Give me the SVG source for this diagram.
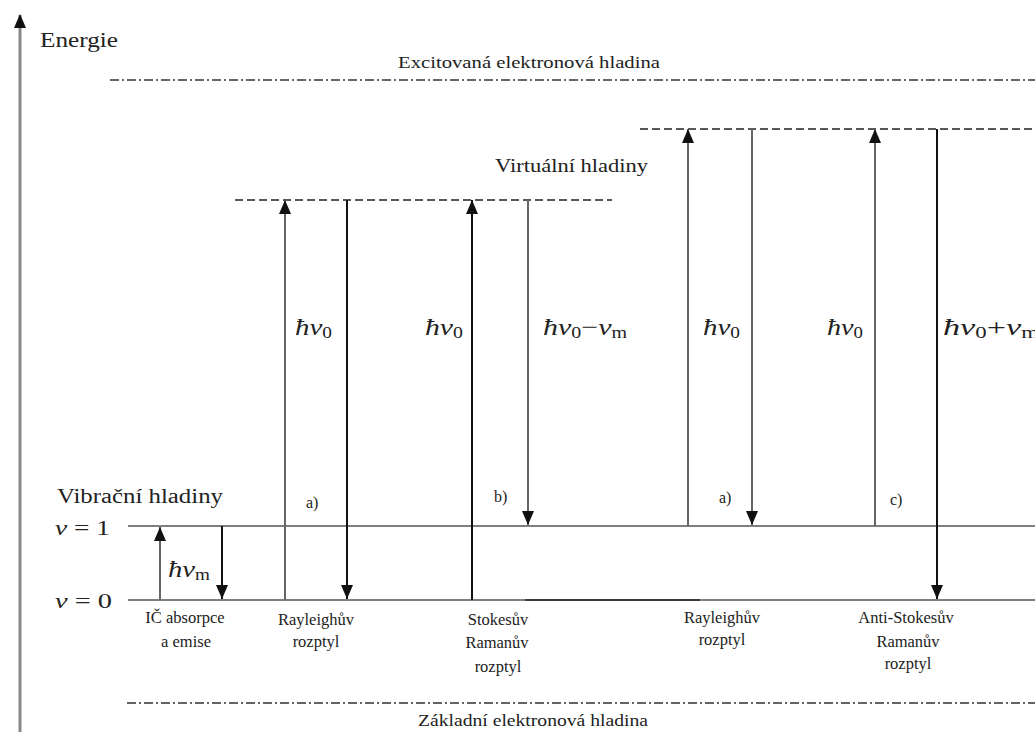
<svg xmlns="http://www.w3.org/2000/svg" width="1035" height="732" viewBox="0 0 1035 732" font-family="'Liberation Serif', serif">
<defs>
<marker id="ah" markerWidth="14" markerHeight="12" refX="14" refY="6" orient="auto" markerUnits="userSpaceOnUse" viewBox="0 0 14 12"><path d="M0,0 L14,6 L0,12 z" fill="#111"/></marker>
<marker id="axh" markerWidth="14" markerHeight="12" refX="13" refY="6" orient="auto" markerUnits="userSpaceOnUse" viewBox="0 0 14 12"><path d="M0,0 L14,6 L0,12 z" fill="#111"/></marker>
</defs>
<style>
text{font-family:'Liberation Serif',serif;fill:#222}
.lbl{font-size:16.5px;text-anchor:middle}
.math{font-style:italic;font-size:24px}
.sub{font-style:normal;font-size:16px}
.lvl{stroke:#555;stroke-width:1.6;fill:none}
.dd{stroke:#333;stroke-width:1.6;stroke-dasharray:9 3 2 3;fill:none}
.vd{stroke:#222;stroke-width:1.6;stroke-dasharray:8 4;fill:none}
.ar{stroke-width:2;fill:none;marker-end:url(#ah)}
.k{stroke:#111}
.g{stroke:#666}
</style>
<rect width="1035" height="732" fill="#fff"/>

<g id="axis">
<line x1="20" y1="732" x2="20" y2="15" stroke="#888" stroke-width="3" marker-end="url(#axh)"/>
<text x="40" y="47" font-size="21" textLength="78" lengthAdjust="spacingAndGlyphs">Energie</text>
</g>

<g id="excited-level">
<line class="dd" x1="110" y1="80" x2="1035" y2="80"/>
<text x="398" y="68" font-size="17" textLength="262" lengthAdjust="spacingAndGlyphs">Excitovaná elektronová hladina</text>
</g>

<g id="virtual-levels">
<line class="vd" x1="235" y1="200" x2="612" y2="200"/>
<line class="vd" x1="640" y1="129" x2="1035" y2="129"/>
<text x="495" y="172" font-size="19" textLength="153" lengthAdjust="spacingAndGlyphs">Virtuální hladiny</text>
</g>

<g id="vibrational-levels">
<text x="57" y="503" font-size="20" textLength="166" lengthAdjust="spacingAndGlyphs">Vibrační hladiny</text>
<line class="lvl" x1="128" y1="526" x2="1035" y2="526"/>
<line class="lvl" x1="128" y1="600" x2="1035" y2="600"/>
<line x1="525" y1="600" x2="700" y2="600" stroke="#222" stroke-width="1.6"/>
<text x="55" y="535" font-size="22" textLength="55" lengthAdjust="spacingAndGlyphs"><tspan font-style="italic">ν</tspan> = 1</text>
<text x="55" y="608" font-size="22" textLength="57" lengthAdjust="spacingAndGlyphs"><tspan font-style="italic">ν</tspan> = 0</text>
</g>

<g id="ground-level">
<line class="dd" x1="127" y1="703" x2="1035" y2="703"/>
<text x="418" y="726" font-size="16" textLength="230" lengthAdjust="spacingAndGlyphs">Základní elektronová hladina</text>
</g>

<g id="connectors">
<line class="ar g" x1="160" y1="600" x2="160" y2="527"/>
<line class="ar k" x1="222" y1="526" x2="222" y2="599"/>
<line class="ar g" x1="285" y1="600" x2="285" y2="200"/>
<line class="ar k" x1="347" y1="200" x2="347" y2="599"/>
<line class="ar k" x1="472" y1="600" x2="472" y2="200"/>
<line class="ar g" x1="528" y1="200" x2="528" y2="525"/>
<line class="ar g" x1="688" y1="526" x2="688" y2="129"/>
<line class="ar g" x1="752" y1="129" x2="752" y2="525"/>
<line class="ar g" x1="875" y1="526" x2="875" y2="129"/>
<line class="ar k" x1="937" y1="129" x2="937" y2="599"/>
</g>

<g id="ir">
<text class="math" x="168" y="577" font-size="21" textLength="42" lengthAdjust="spacingAndGlyphs">ħν<tspan class="sub" font-size="14" dy="3">m</tspan></text>
<text class="lbl" x="185" y="623">IČ absorpce</text>
<text class="lbl" x="186" y="647">a emise</text>
</g>

<g id="rayleigh-1">
<text class="math" x="295" y="335" textLength="37" lengthAdjust="spacingAndGlyphs">ħν<tspan class="sub" dy="3">0</tspan></text>
<text x="306" y="508" font-size="16">a)</text>
<text class="lbl" x="316" y="625">Rayleighův</text>
<text class="lbl" x="316" y="647">rozptyl</text>
</g>

<g id="stokes">
<text class="math" x="425" y="335" textLength="38" lengthAdjust="spacingAndGlyphs">ħν<tspan class="sub" dy="3">0</tspan></text>
<text class="math" x="543" y="335" textLength="84" lengthAdjust="spacingAndGlyphs">ħν<tspan class="sub" dy="3">0</tspan><tspan font-style="normal" dy="-3">−</tspan>ν<tspan class="sub" dy="3">m</tspan></text>
<text x="494" y="502" font-size="16">b)</text>
<text class="lbl" x="498" y="625">Stokesův</text>
<text class="lbl" x="497" y="648">Ramanův</text>
<text class="lbl" x="498" y="672">rozptyl</text>
</g>

<g id="rayleigh-2">
<text class="math" x="703" y="335" textLength="37" lengthAdjust="spacingAndGlyphs">ħν<tspan class="sub" dy="3">0</tspan></text>
<text x="719" y="503" font-size="16">a)</text>
<text class="lbl" x="722" y="623">Rayleighův</text>
<text class="lbl" x="722" y="645">rozptyl</text>
</g>

<g id="anti-stokes">
<text class="math" x="827" y="335" textLength="36" lengthAdjust="spacingAndGlyphs">ħν<tspan class="sub" dy="3">0</tspan></text>
<text class="math" x="943" y="335" textLength="96" lengthAdjust="spacingAndGlyphs">ħν<tspan class="sub" dy="3">0</tspan><tspan font-style="normal" dy="-3">+</tspan>ν<tspan class="sub" dy="3">m</tspan></text>
<text x="890" y="505" font-size="16">c)</text>
<text class="lbl" x="906" y="623">Anti-Stokesův</text>
<text class="lbl" x="908" y="647">Ramanův</text>
<text class="lbl" x="908" y="669">rozptyl</text>
</g>
</svg>
